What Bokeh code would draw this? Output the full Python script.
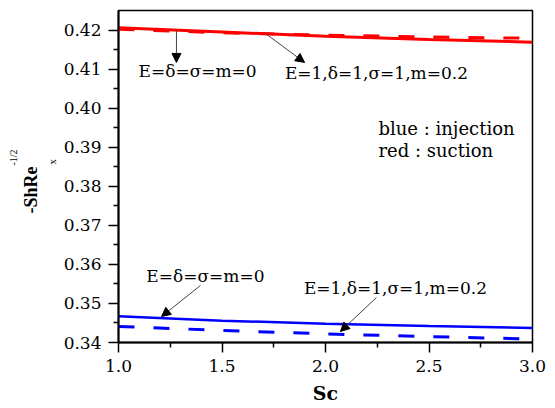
import numpy as np
from bokeh.plotting import figure
from bokeh.models import Label, Arrow, NormalHead, FixedTicker, NumeralTickFormatter, Range1d, Title
from bokeh.embed import file_html
from bokeh.resources import INLINE

sc = [1.0, 1.5, 2.0, 2.5, 3.0]
red_solid = [0.4206, 0.4195, 0.4184, 0.4176, 0.4169]
red_dashed = [0.4202, 0.4193, 0.4187, 0.4182, 0.4179]
blue_solid = [0.3467, 0.3456, 0.3448, 0.3442, 0.3437]
blue_dashed = [0.3441, 0.3431, 0.3422, 0.3415, 0.3409]

x_ticks = [1.0, 1.5, 2.0, 2.5, 3.0]
y_ticks = [0.34, 0.35, 0.36, 0.37, 0.38, 0.39, 0.40, 0.41, 0.42]

SERIF = "DejaVu Serif"

p = figure(width=547, height=406, output_backend="svg", toolbar_location=None,
           x_range=Range1d(1.0, 3.0), y_range=Range1d(0.34, 0.425),
           min_border_left=118, min_border_right=15, min_border_top=10, min_border_bottom=64)
p.background_fill_color = "white"
p.border_fill_color = "white"
p.grid.visible = False
p.outline_line_color = "black"
p.outline_line_width = 1.5

for ax in (p.xaxis[0], p.yaxis[0]):
    ax.axis_line_width = 2
    ax.axis_line_color = "black"
    ax.major_tick_line_width = 1.5
    ax.minor_tick_line_width = 1.5
    ax.major_tick_in = 0
    ax.major_tick_out = 10
    ax.minor_tick_in = 0
    ax.minor_tick_out = 5
    ax.major_label_text_font = SERIF
    ax.major_label_text_font_size = "17px"
    ax.major_label_text_color = "black"
    ax.major_label_standoff = 7

p.xaxis.ticker = FixedTicker(ticks=x_ticks, minor_ticks=[1.25, 1.75, 2.25, 2.75])
p.yaxis.ticker = FixedTicker(ticks=y_ticks, minor_ticks=[0.345, 0.355, 0.365, 0.375, 0.385, 0.395, 0.405, 0.415])
p.xaxis.formatter = NumeralTickFormatter(format="0.0")
p.yaxis.formatter = NumeralTickFormatter(format="0.00")

p.xaxis.axis_label = "Sc"
p.xaxis.axis_label_text_font = SERIF
p.xaxis.axis_label_text_font_size = "19px"
p.xaxis.axis_label_text_font_style = "bold"
p.xaxis.axis_label_text_color = "black"
p.xaxis.axis_label_standoff = 7

p.line(sc, red_solid, line_color="red", line_width=3)
p.line(sc, red_dashed, line_color="red", line_width=3, line_dash="16 19")
p.line(sc, blue_solid, line_color="blue", line_width=2.5)
p.line(sc, blue_dashed, line_color="blue", line_width=3, line_dash="16 19")

def lab(x, y, text, size="17px", align="center", style="normal", font=SERIF):
    p.add_layout(Label(x=x, y=y, text=text, text_font=font, text_font_size=size,
                       text_align=align, text_baseline="middle", text_font_style=style,
                       text_color="black"))

def arr(x0, y0, x1, y1):
    p.add_layout(Arrow(x_start=x0, y_start=y0, x_end=x1, y_end=y1, line_color="#444444", line_width=1,
                       end=NormalHead(size=9, fill_color="black", line_color="black")))

# annotations (top, suction)
lab(1.382, 0.4096, "E=δ=σ=m=0")
arr(1.280, 0.4199, 1.280, 0.4117)
lab(2.246, 0.4089, "E=1,δ=1,σ=1,m=0.2")
arr(1.710, 0.4191, 1.899, 0.4117)

# annotations (bottom, injection)
lab(1.420, 0.3569, "E=δ=σ=m=0")
arr(1.396, 0.35459, 1.208, 0.34666)
lab(2.338, 0.35408, "E=1,δ=1,σ=1,m=0.2")
arr(2.246, 0.35152, 2.072, 0.34282)

lab(2.256, 0.3948, "blue : injection", size="18px", align="left")
lab(2.256, 0.38915, "red : suction", size="18px", align="left")

# y axis title built from side titles: subscript, main text, superscript
def side_title(text, size, offset, style="normal", standoff=0):
    p.add_layout(Title(text=text, text_font="Liberation Serif", text_font_size=size,
                       text_font_style=style, text_color="black", align="left",
                       offset=offset, standoff=standoff), "left")

side_title("x", "11px", 178, standoff=6)
side_title("-ShRe", "18px", 129, style="bold")
side_title("-1/2", "10px", 177)

open("out.html", "w").write(file_html(p, INLINE))
